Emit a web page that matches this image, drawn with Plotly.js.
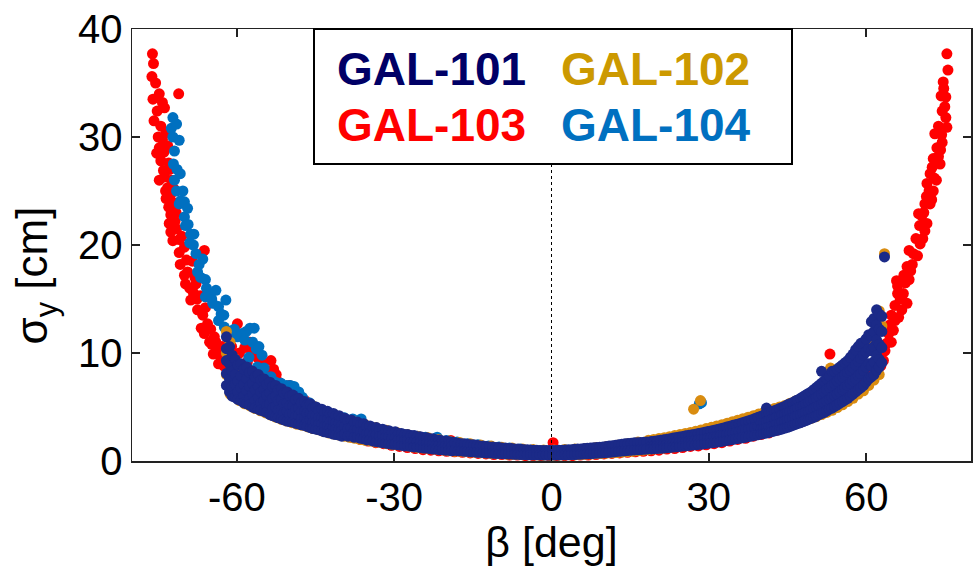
<!DOCTYPE html>
<html><head><meta charset="utf-8">
<script src="https://cdn.plot.ly/plotly-3.0.1.min.js"></script>
<style>html,body{margin:0;padding:0;background:#fff}#chart{width:980px;height:569px}</style>
</head><body><div id="chart"></div>
<script>
const seriesNames = ['GAL-101', 'GAL-102', 'GAL-103', 'GAL-104'];
const markerColors = ['#1b2a88', '#d98c10', '#ff0000', '#0070c0'];
const labelColors = ['#000066', '#cc9900', '#ff0000', '#0070c0'];
const xTicks = [-60, -30, 0, 30, 60];
const yTicks = [0, 10, 20, 30, 40];

// Each row: [beta (deg), sigma_y values (cm) observed at that beta ...]
const gal101 = [
[-62.0,11.5,10.4,9.3,8.1,7.0],[-61.4,10.6,9.0,7.6,6.4],[-60.9,9.8,8.3,6.9,6.0],[-60.3,9.4,8.0,7.1,5.9],[-59.8,8.9,7.4,6.4,5.7],
[-59.2,9.0,7.9,6.8,5.6],[-58.7,8.5,7.1,6.0,5.4],[-58.1,8.7,7.6,6.5,5.3],[-57.6,8.2,6.9,5.8,5.2],[-57.0,8.3,7.2,6.2,5.0],
[-56.5,7.8,6.6,5.6,4.9],[-55.9,8.0,6.9,5.9,4.8],[-55.4,7.5,6.4,5.4,4.7],[-54.8,7.6,6.6,5.6,4.6],[-54.3,7.1,6.1,5.1,4.5],
[-53.7,7.3,6.3,5.3,4.3],[-53.2,6.9,5.8,4.9,4.2],[-52.6,7.0,6.0,5.0,4.1],[-52.1,6.6,5.6,4.7,4.0],[-51.5,6.7,5.7,4.8,3.9],
[-51.0,6.3,5.3,4.5,3.8],[-50.4,6.4,5.4,4.6,3.7],[-49.9,6.0,5.1,4.3,3.65],[-49.3,6.1,5.1,4.4,3.6],[-48.8,5.7,4.8,4.1,3.5],
[-48.2,5.8,4.9,4.2,3.45],[-47.7,5.4,4.6,3.9,3.35],[-47.1,5.5,4.6,4.0,3.3],[-46.6,5.2,4.4,3.7,3.2],[-46.0,5.3,4.4,3.8,3.1],
[-45.5,4.9,4.2,3.55,3.0],[-44.9,5.0,4.2,3.6,2.95],[-44.4,4.7,4.0,3.4,2.9],[-43.8,4.8,4.0,3.4,2.8],[-43.3,4.5,3.8,3.2,2.7],
[-42.7,4.6,3.85,3.25,2.65],[-42.2,4.35,3.65,3.05,2.6],[-41.6,4.4,3.7,3.1,2.5],[-41.1,4.15,3.5,2.95,2.45],[-40.5,4.2,3.5,2.95,2.4],
[-40.0,3.95,3.3,2.8,2.3],[-39.4,3.95,3.2,2.5],[-38.8,3.7,3.0,2.3],[-38.2,3.8,3.1,2.4],[-37.6,3.55,2.85,2.2],
[-37.0,3.6,2.9,2.25],[-36.4,3.35,2.7,2.1],[-35.8,3.45,2.75,2.05],[-35.2,3.2,2.55,1.95],[-34.6,3.25,2.6,1.95],
[-34.0,3.05,2.45,1.85],[-33.4,3.1,2.45,1.8],[-32.8,2.9,2.3,1.75],[-32.2,2.95,2.35,1.7],[-31.6,2.8,2.2,1.65],
[-31.0,2.8,2.2,1.6],[-30.4,2.65,2.1,1.55],[-29.8,2.7,2.1,1.55],[-29.2,2.55,2.0,1.5],[-28.6,2.55,2.0,1.45],
[-28.0,2.45,1.9,1.4],[-27.4,2.45,1.9,1.4],[-26.8,2.35,1.8,1.35],[-26.2,2.35,1.8,1.3],[-25.6,2.25,1.75,1.3],
[-25.0,2.25,1.7,1.25],[-24.4,2.15,1.65,1.2],[-23.8,2.15,1.65,1.2],[-23.2,2.05,1.6,1.15],[-22.6,2.05,1.55,1.1],
[-22.0,1.95,1.5,1.1],[-21.4,1.95,1.5,1.05],[-20.8,1.85,1.45,1.05],[-20.2,1.85,1.4,1.0],[-19.6,1.8,1.4,1.0],
[-19.0,1.75,1.35,0.95],[-18.4,1.7,1.0],[-17.8,1.65,0.95],[-17.2,1.6,0.95],[-16.6,1.6,0.9],[-16.0,1.55,0.9],
[-15.4,1.5,0.85],[-14.8,1.5,0.85],[-14.2,1.45,0.8],[-13.6,1.4,0.8],[-13.0,1.4,0.78],[-12.4,1.35,0.75],
[-11.8,1.3,0.75],[-11.2,1.3,0.72],[-10.6,1.25,0.7],[-10.0,1.25,0.7],[-9.4,1.2,0.68],[-8.8,1.2,0.66],
[-8.2,1.15,0.65],[-7.6,1.15,0.64],[-7.0,1.1,0.62],[-6.4,1.1,0.62],[-5.8,1.08,0.6],[-5.2,1.05,0.6],
[-4.6,1.05,0.58],[-4.0,1.02,0.58],[-3.4,1.0,0.57],[-2.8,1.0,0.57],[-2.2,0.98,0.56],[-1.6,0.98,0.56],
[-1.0,0.97,0.55],[-0.4,0.97,0.55],[0.2,0.98,0.55],[0.8,0.98,0.56],[1.4,1.0,0.56],[2.0,1.0,0.57],
[2.6,1.02,0.58],[3.2,1.05,0.58],[3.8,1.05,0.6],[4.4,1.08,0.6],[5.0,1.1,0.62],[5.6,1.12,0.63],
[6.2,1.15,0.65],[6.8,1.18,0.66],[7.4,1.2,0.68],[8.0,1.22,0.7],[8.6,1.25,0.72],[9.2,1.28,0.74],
[9.8,1.3,0.76],[10.4,1.35,0.78],[11.0,1.38,0.8],[11.6,1.42,0.83],[12.2,1.45,0.86],[12.8,1.5,0.9],
[13.4,1.55,0.92],[14.0,1.6,0.95],[14.6,1.62,0.98],[15.2,1.65,1.0],[15.8,1.68,1.02],[16.4,1.7,1.04],
[17.0,1.72,1.06],[17.6,1.74,1.08],[18.2,1.76,1.1],[19.0,1.8,1.38,1.12],[19.6,1.84,1.42,1.14],[20.2,1.88,1.45,1.16],
[20.8,1.92,1.48,1.18],[21.4,1.97,1.52,1.2],[22.0,2.02,1.56,1.23],[22.6,2.07,1.6,1.26],[23.2,2.12,1.64,1.29],
[23.8,2.17,1.68,1.32],[24.4,2.22,1.72,1.35],[25.0,2.28,1.76,1.38],[25.6,2.33,1.8,1.41],[26.2,2.38,1.84,1.44],
[26.8,2.43,1.88,1.47],[27.4,2.48,1.92,1.5],[28.0,2.54,1.97,1.53],[28.6,2.6,2.02,1.56],[29.2,2.66,2.07,1.6],
[29.8,2.72,2.12,1.64],[30.4,2.78,2.17,1.68],[31.0,2.85,2.22,1.72],[31.6,2.92,2.27,1.76],[32.2,2.99,2.33,1.8],
[32.8,3.06,2.39,1.85],[33.4,3.14,2.45,1.9],[34.0,3.22,2.51,1.95],[34.6,3.3,2.58,2.0],[35.2,3.38,2.65,2.05],
[35.8,3.46,2.72,2.1],[36.4,3.55,2.79,2.15],[37.0,3.64,2.87,2.2],[37.6,3.73,2.95,2.26],[38.2,3.83,3.03,2.32],
[38.8,3.93,3.11,2.38],[39.4,4.04,3.19,2.44],[40.0,4.15,3.5,2.95,2.5],[40.5,4.25,3.55,3.0,2.55],[41.0,4.9,4.35,3.65,3.05,2.6],
[41.5,4.45,3.75,3.15,2.65],[42.0,4.55,3.85,3.2,2.72],[42.5,4.65,3.95,3.3,2.78],[43.0,4.75,4.05,3.4,2.84],
[43.5,4.85,4.15,3.5,2.9],[44.0,4.95,4.25,3.6,2.97],[44.3,5.0],[44.5,5.05,4.35,3.7,3.05],[45.0,5.2,4.45,3.8,3.12],
[45.5,5.3,4.55,3.9,3.2],[46.0,5.4,4.65,4.0,3.3],[46.5,5.55,4.75,4.1,3.4],[46.8,5.6],[47.0,5.65,4.9,4.2,3.48],
[47.5,5.8,5.0,4.3,3.55],[48.0,5.95,5.1,4.4,3.65],[48.5,6.1,5.25,4.5,3.75],[49.0,6.25,5.4,4.6,3.85],
[49.5,6.4,5.55,4.75,3.95],[50.0,6.6,5.7,4.85,4.05],[50.5,6.8,5.85,5.0,4.15],[51.0,7.0,6.0,5.1,4.3],
[51.5,8.3,7.2,6.2,5.25,4.4],[52.0,7.4,6.4,5.4,4.5],[52.5,7.6,6.6,5.55,4.65],[53.0,7.85,6.8,5.7,4.8],
[53.5,8.3,7.0,5.9,4.9],[54.0,8.3,7.2,6.05,5.05],[54.5,8.5,7.4,6.2,5.2],[55.0,8.7,7.6,6.4,5.35],
[55.5,8.9,7.8,6.6,5.5],[56.0,9.1,8.0,6.8,5.65],[56.5,9.3,8.2,7.0,5.8],[57.0,9.6,8.4,7.2,6.0],
[57.5,9.9,8.6,7.4,6.2],[58.0,10.3,8.9,7.6,6.4],[58.5,10.6,9.2,7.9,6.6],[59.0,10.9,9.5,8.1,6.8],
[59.5,11.0,9.8,8.4,7.0],[60.0,11.3,10.1,8.7,7.3],[60.5,11.7,10.4,9.0,7.6],[61.0,12.9,11.6,10.2,8.8,7.8],
[61.5,13.2,12.0,10.6,9.2,8.0],[62.0,14.0,12.6,11.2,9.8,8.4],[62.5,13.6,12.2,10.8,9.4,8.7],[63.0,13.4,12.0,10.5,9.1],
[63.5,18.9]];

const gal102 = [
[-62.0,12.0,10.0,8.0],[-61.3,11.0,7.0,6.2],[-60.5,9.5,6.0],[-59.5,8.6,5.6],[-58.5,5.3,7.5],[-57.5,5.1,8.2],
[-56.5,4.85,6.5],[-55.5,4.65,7.6],[-54.5,4.45,6.0],[-53.5,4.25,7.0],[-52.5,4.05,5.5],[-51.5,3.85,6.6],
[-50.5,3.7,5.0],[-49.5,3.55,6.0],[-48.5,3.4,4.6],[-47.5,3.3,5.5],[-46.5,3.15,4.3],[-45.5,3.0,5.1],
[-44.5,2.9,3.9],[-43.5,2.75,4.6],[-42.5,2.6,3.6],[-41.5,2.5,4.3],[-40.5,2.4,3.3],[-39.5,2.3,3.9],
[-38.5,2.2,3.0],[-37.5,2.1,3.6],[-36.5,2.0,2.8],[-35.5,1.9,3.35],[-34.5,1.85,2.6],[-33.5,1.75,3.1],
[-32.5,1.7,2.4],[-31.5,1.6,2.85],[-30.5,1.55,2.2],[-29.5,1.5,2.65],[-28.5,1.45,2.05],[-27.5,1.4,2.45],
[-26.5,1.3,1.9],[-25.5,1.25,2.3],[-24.5,1.2,1.75],[-23.5,1.15,2.15],[-22.5,1.1,1.6],[-21.5,1.05,2.0],
[-20.5,1.0,1.5],[-19.5,0.95,1.85],[-18.5,0.9,1.4],[-17.5,0.9,1.72],[-16.5,0.85,1.3],[-15.5,0.82,1.6],
[-14.5,0.8,1.2],[-13.5,0.76,1.48],[-12.5,0.73,1.12],[-11.5,0.7,1.38],[-10.5,0.68,1.05],[-9.5,0.66,1.28],
[-8.5,0.63,0.98],[-7.5,0.62,1.2],[-6.5,0.6,0.92],[-5.5,0.58,1.12],[-4.5,0.57,0.88],[-3.5,0.56,1.06],
[-2.5,0.55,0.85],[-1.5,0.54,1.03],[-0.5,0.54,0.82],[0.5,0.54,1.03],[1.5,0.55,0.84],[2.5,0.56,1.06],
[3.5,0.57,0.88],[4.5,0.58,1.1],[5.5,0.6,0.92],[6.5,0.62,1.16],[7.5,0.64,0.98],[8.5,0.66,1.24],
[9.5,0.69,1.05],[10.5,0.72,1.34],[11.5,0.75,1.12],[12.5,0.78,1.46],[13.5,0.82,1.2],[14.5,0.86,1.6],
[15.5,0.9,1.3],[16.5,0.95,1.75],[17.5,1.0,1.42],[18.5,1.05,1.92],[19.5,1.1,2.0],[20.5,1.15,2.08],
[21.5,1.2,2.16],[22.5,1.26,2.25],[23.5,1.32,2.35],[24.5,1.38,2.45],[25.5,1.45,2.55],[26.5,1.52,2.65],
[27.1,4.8],[27.5,1.58,2.76],[28.4,5.6],[28.5,1.65,2.88],[29.5,1.72,3.0],[30.5,1.8,3.12],[31.5,1.88,3.24],
[32.5,1.96,3.36],[33.5,2.05,3.5],[34.5,2.14,3.64],[35.5,2.23,3.78],[36.5,2.33,3.92],[37.5,2.43,4.06],
[38.5,2.53,4.2],[39.5,2.63,4.35],[40.5,2.73,4.5],[41.5,2.85,4.7],[42.5,2.97,4.85],[43.5,3.1,5.0],
[44.5,3.22,5.15],[45.5,3.35,5.35],[46.5,3.5,5.55],[47.5,3.65,5.75],[48.5,3.8,6.0],[49.5,3.95,6.3],
[50.5,4.1,6.6],[51.5,4.3,7.0],[52.5,4.5,7.3],[53.2,8.6],[53.5,4.7,7.7],[54.5,4.95,8.0],[55.5,5.2,8.3],
[56.5,5.5,8.6],[57.5,5.8,9.2],[58.5,6.2,9.6],[59.5,6.5,10.2],[60.5,7.0,10.8],[61.5,7.5,11.8],
[62.5,8.0,13.9],[63.0,12.5],[63.5,19.2]];

const gal103 = [
[-76.2,35.6],[-76.1,37.7],[-76.0,33.5],[-75.9,36.8],[-75.8,31.5],[-75.5,35.0],[-75.3,28.5],[-75.2,32.4],
[-75.0,30.0],[-74.8,34.0,29.0,26.0],[-74.5,31.0,27.8],[-74.2,33.2,29.8],[-74.0,26.9],[-73.9,28.6],
[-73.8,32.7,26.3],[-73.6,25.0],[-73.5,30.4,24.3],[-73.2,29.2,25.3],[-73.0,27.6,23.5],[-72.9,22.0],
[-72.8,27.0],[-72.6,24.7,22.8,21.2],[-72.5,26.0],[-72.2,20.4],[-72.0,25.2],[-71.9,23.9],[-71.8,22.2],
[-71.6,23.0],[-71.5,21.5],[-71.1,34.0],[-71.0,19.3,20.5],[-70.8,18.2],[-70.5,20.8],[-70.0,19.8,17.2],
[-69.8,16.4],[-69.6,18.6],[-69.4,17.5],[-69.0,16.0],[-68.8,14.9],[-68.5,18.5],[-68.3,15.6],[-68.0,17.0],
[-67.8,16.4],[-67.6,15.0],[-67.5,14.0],[-67.0,15.3],[-66.8,12.3],[-66.5,13.5],[-66.2,19.5,11.8],[-66.0,14.2],
[-65.6,12.7],[-65.2,11.0],[-65.0,12.2],[-64.8,10.8],[-64.5,9.9],[-64.3,11.5],[-64.0,11.0],[-63.7,10.3],
[-63.5,9.0],[-63.0,9.6],[-62.8,10.6],[-62.5,8.8],[-62.0,9.4],[-61.5,8.0],[-61.0,10.6],[-60.5,11.8],
[-59.9,12.7],[-59.5,10.0],[-58.5,10.5],[-58.0,9.2],[-57.5,11.0],[-57.2,10.2],[-56.5,10.5],[-56.1,9.6],
[-55.5,8.6],[-55.0,9.0],[-54.8,8.1],[-54.0,7.8],[-53.5,9.3],[-53.0,8.5],[-52.5,8.0],[-52.0,7.3],
[-51.5,6.8],[-50.5,6.4],[-50.0,7.0],[-49.1,5.9],[-48.5,5.6,4.5],[-47.5,5.2],[-47.0,5.6,4.0],[-46.0,4.8],
[-45.5,3.6],[-44.0,3.3],[-42.5,3.0],[-41.0,2.7],[-39.5,2.4],[-38.0,2.2],[-37.6,3.3],[-36.5,2.0],
[-35.0,1.85],[-33.5,1.7],[-32.0,1.6],[-30.5,1.45],[-29.0,1.35],[-27.5,1.25],[-26.0,1.15],[-24.5,1.05],
[-23.0,1.0],[-21.5,0.95],[-20.0,0.9],[-19.2,1.9],[-18.5,0.85],[-17.0,0.8],[-15.5,0.75],[-14.0,0.7],
[-12.5,0.65],[-11.0,0.6],[-9.5,0.6],[-8.0,0.55],[-6.5,0.55],[-5.0,0.5],[-3.5,0.5],[-2.0,0.5],[-0.5,0.5],
[0.3,1.7],[1.0,0.5],[2.5,0.5],[4.0,0.5],[5.5,0.55],[7.0,0.55],[8.5,0.6],[10.0,0.65],[11.5,0.7],
[13.0,0.75],[14.5,0.8],[16.0,0.85],[17.5,0.9],[19.0,0.95],[20.5,1.0],[22.0,1.1],[23.5,1.15],[25.0,1.25],
[26.5,1.35],[28.0,1.4],[29.5,1.5],[31.0,1.6],[32.5,1.7],[34.0,1.85],[35.5,2.0],[37.0,2.1],[38.5,2.3],
[40.0,2.45],[41.5,2.6],[43.0,2.85],[44.5,3.1],[46.0,3.35],[47.5,3.6],[49.0,3.9],[50.5,4.2],[52.0,4.6],
[53.1,9.9],[53.5,5.0],[55.0,5.5],[56.5,6.0],[58.0,6.6],[59.5,7.3],[60.5,8.0],[61.5,8.5],[62.2,8.2],
[62.8,8.8],[63.3,9.3],[63.6,10.2],[63.9,10.9],[64.0,12.0],[64.3,11.8],[64.5,12.6],[64.8,13.5,11.0],
[65.2,12.1],[65.5,14.4,13.0],[65.8,16.7],[66.0,16.2,15.5],[66.2,13.3],[66.5,15.0],[66.8,14.0],[67.1,15.5],
[67.2,17.2],[67.5,16.5],[67.8,14.6,18.0],[68.2,19.5,16.8],[68.5,17.6],[68.8,18.2],[69.0,19.2],[69.5,20.6],
[69.8,19.0],[70.0,22.9],[70.2,21.8],[70.3,20.1],[70.6,22.7],[70.8,20.6],[71.0,23.0],[71.2,23.8,21.3],
[71.5,24.5],[71.6,25.7,22.0],[72.0,25.0],[72.2,23.8,26.6],[72.5,24.2],[72.6,27.2],[72.8,25.0,28.0],
[73.0,26.2],[73.1,30.3],[73.4,26.0],[73.5,29.0],[73.8,28.2,31.0],[74.1,27.5],[74.2,28.8],[74.3,33.8],
[74.4,30.2],[74.5,32.4,29.5],[74.7,35.1],[74.8,34.5],[75.0,32.8],[75.2,31.8,33.7],[75.4,30.9,37.7],[75.6,36.2]];

const gal104 = [
[-72.5,30.8],[-72.2,31.8,30.0],[-72.1,27.5],[-71.9,28.7,26.0],[-71.5,31.2,25.0],[-71.4,27.0],[-71.0,29.7,23.8],
[-70.8,26.6],[-70.7,24.1],[-70.3,25.0],[-70.0,22.6,24.0],[-69.8,21.8],[-69.4,23.4],[-69.3,21.9],[-69.0,20.2],
[-68.8,21.0],[-68.3,20.0],[-68.2,21.0],[-67.8,19.2],[-67.5,17.5],[-67.2,18.2],[-66.9,17.0],[-66.5,18.7],
[-66.0,16.8,15.2],[-65.8,16.0],[-65.3,15.5],[-64.8,15.0],[-64.6,14.6],[-64.0,15.8],[-63.5,14.3,13.0],
[-63.0,13.6],[-62.5,13.5],[-62.4,12.4],[-62.1,14.9],[-61.5,12.0],[-60.5,12.2],[-59.9,11.5],[-59.0,11.8],
[-58.5,11.2],[-58.2,12.0],[-57.7,9.6],[-57.5,12.3],[-57.0,11.0],[-56.7,12.3],[-56.3,10.4],[-56.1,8.7],
[-55.8,10.6],[-55.2,9.8],[-54.8,8.6],[-54.2,7.7],[-53.5,7.8],[-52.6,7.3],[-51.6,7.2],[-50.5,7.0],
[-49.8,7.0],[-49.1,6.9],[-48.2,6.4],[-47.5,5.9],[-46.2,5.4],[-45.5,5.1],[-44.0,4.7],[-43.2,4.5],
[-42.6,4.3],[-41.5,4.1],[-40.5,4.1],[-39.5,4.0],[-37.9,3.9],[-36.3,3.9],[-35.0,3.2],[-33.5,3.0],
[-32.0,2.8],[-30.5,2.6],[-29.0,2.5],[-27.5,2.4],[-25.6,2.3],[-24.0,2.2],[-21.8,2.2],[-20.0,1.9],
[-18.0,1.75],[-16.0,1.6],[-14.0,1.5],[-12.0,1.4],[-10.0,1.3],[-8.0,1.2],[-6.0,1.1],[-4.0,1.0],
[-2.0,0.95],[0.0,0.9],[2.0,0.95],[4.0,1.0],[6.0,1.05],[8.0,1.1],[10.0,1.2],[12.0,1.3],[14.0,1.35],
[16.0,1.5],[18.0,1.6],[20.0,1.75],[22.0,1.9],[24.0,2.0],[26.0,2.2],[28.2,5.3],[28.6,5.4]];

const seriesData = [gal101, gal102, gal103, gal104];
const drawOrder = [2, 3, 1, 0];

function columnsX(rows) { const out = []; rows.forEach(r => r.slice(1).forEach(() => out.push(r[0]))); return out; }
function columnsY(rows) { const out = []; rows.forEach(r => r.slice(1).forEach(v => out.push(v))); return out; }

const traces = drawOrder.map(i => ({
  type: 'scatter', mode: 'markers', name: seriesNames[i],
  x: columnsX(seriesData[i]), y: columnsY(seriesData[i]),
  marker: {color: markerColors[i], size: 11, line: {width: 0}},
  showlegend: false, hoverinfo: 'x+y'
}));

const FONT = 'Liberation Sans, Arial, Helvetica, sans-serif';
const L = 132, R = 971, T = 29, B = 461;
const px2x = p => (p - L) / (R - L);
const px2y = p => (B - p) / (B - T);

const legendPos = [[335, 69], [559, 69], [335, 125], [559, 125]];
const annotations = seriesNames.map((n, i) => ({
  text: n, xref: 'paper', yref: 'paper', x: px2x(legendPos[i][0]), y: px2y(legendPos[i][1]),
  xanchor: 'left', yanchor: 'middle', showarrow: false,
  font: {family: FONT, size: 46, color: labelColors[i], weight: 'bold'}
}));

const layout = {
  width: 980, height: 569,
  margin: {l: L, r: 980 - R, t: T, b: 569 - B},
  paper_bgcolor: '#fff', plot_bgcolor: '#fff',
  font: {family: FONT, color: '#000', size: 40},
  xaxis: {
    range: [-80, 80], tickvals: xTicks, ticktext: xTicks.map(String),
    ticks: 'inside', ticklen: 8, tickwidth: 1.5, tickcolor: '#222',
    showline: true, linecolor: '#222', linewidth: 1.5, mirror: 'ticks',
    showgrid: false, zeroline: false,
    tickfont: {family: FONT, size: 40, color: '#000'},
    title: {text: 'β [deg]', font: {family: FONT, size: 43, color: '#000'}, standoff: 2}
  },
  yaxis: {
    range: [0, 40], tickvals: yTicks, ticktext: yTicks.map(String),
    ticks: 'inside', ticklen: 8, tickwidth: 1.5, tickcolor: '#222',
    showline: true, linecolor: '#222', linewidth: 1.5, mirror: 'ticks',
    showgrid: false, zeroline: false,
    tickfont: {family: FONT, size: 40, color: '#000'},
    title: {text: 'σ<sub>y</sub> [cm]&nbsp;&nbsp;&nbsp;&nbsp;&nbsp;', font: {family: FONT, size: 44, color: '#000'}, standoff: 16}
  },
  shapes: [
    {type: 'line', xref: 'x', yref: 'paper', x0: 0, x1: 0, y0: 0, y1: 1, layer: 'above',
     line: {color: '#000', width: 1, dash: 'dot'}},
    {type: 'rect', xref: 'paper', yref: 'paper', x0: px2x(314), x1: px2x(792), y0: px2y(164), y1: 1,
     layer: 'above', fillcolor: '#fff', line: {color: '#000', width: 2}}
  ],
  annotations: annotations,
  showlegend: false
};

Plotly.newPlot('chart', traces, layout, {displayModeBar: false, staticPlot: true});
</script>
</body></html>
